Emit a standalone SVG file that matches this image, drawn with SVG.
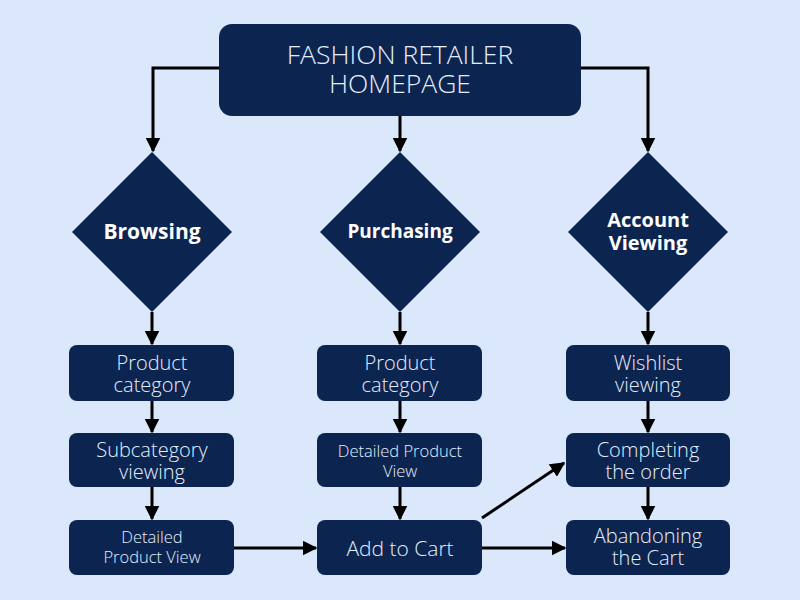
<svg xmlns="http://www.w3.org/2000/svg" width="800" height="600" viewBox="0 0 800 600">
<style>
.node{fill:#0c2550}
.lt{font-family:"Open Sans","Liberation Sans",sans-serif;font-weight:300;fill:#e6eefc;text-anchor:middle}
.bd{font-family:"Open Sans","Liberation Sans",sans-serif;font-weight:700;fill:#ffffff;text-anchor:middle}
.c{stroke:#000;stroke-width:3;fill:none;marker-end:url(#ah)}
</style>
<defs>
<marker id="ah" viewBox="0 0 10 10" refX="9" refY="5" markerWidth="5" markerHeight="5" orient="auto" markerUnits="strokeWidth">
<path d="M0,0 L10,5 L0,10 z" fill="#000"/>
</marker>
</defs>
<rect width="800" height="600" fill="#dbe8fb"/>
<g id="connectors">
<path class="c" d="M219,68 H153 V151"/>
<path class="c" d="M400,116 V151"/>
<path class="c" d="M581,68 H648 V151"/>
<path class="c" d="M152,312 V344"/>
<path class="c" d="M400,312 V344"/>
<path class="c" d="M648,312 V344"/>
<path class="c" d="M152,401 V432"/>
<path class="c" d="M152,487 V519"/>
<path class="c" d="M400,401 V432"/>
<path class="c" d="M400,487 V519"/>
<path class="c" d="M648,401 V432"/>
<path class="c" d="M648,487 V519"/>
<path class="c" d="M234,548 H316"/>
<path class="c" d="M482,548 H565"/>
<path class="c" d="M482,518 L564,463"/>
</g>
<g id="home"><rect class="node" x="219" y="24" width="362" height="92" rx="13"/>
<text class="lt" x="400" y="64" font-size="26.5">FASHION RETAILER</text>
<text class="lt" x="400" y="93" font-size="26.5">HOMEPAGE</text></g>
<g id="browsing"><polygon class="node" points="152,152 232,232 152,312 72,232"/>
<text class="bd" x="152" y="239" font-size="21">Browsing</text></g>
<g id="purchasing"><polygon class="node" points="400,152 480,232 400,312 320,232"/>
<text class="bd" x="400" y="238" font-size="19">Purchasing</text></g>
<g id="account"><polygon class="node" points="648,152 728,232 648,312 568,232"/>
<text class="bd" x="648" y="227" font-size="20">Account</text>
<text class="bd" x="648" y="250" font-size="20">Viewing</text></g>
<g id="b1"><rect class="node" x="69" y="345" width="165" height="56" rx="8"/>
<text class="lt" x="152" y="370" font-size="20">Product</text>
<text class="lt" x="152" y="392" font-size="20">category</text></g>
<g id="b2"><rect class="node" x="69" y="433" width="165" height="54" rx="8"/>
<text class="lt" x="152" y="457" font-size="20">Subcategory</text>
<text class="lt" x="152" y="479" font-size="20">viewing</text></g>
<g id="b3"><rect class="node" x="69" y="520" width="165" height="55" rx="8"/>
<text class="lt" x="152" y="543" font-size="16.5">Detailed</text>
<text class="lt" x="152" y="563" font-size="16.5">Product View</text></g>
<g id="p1"><rect class="node" x="317" y="345" width="165" height="56" rx="8"/>
<text class="lt" x="400" y="370" font-size="20">Product</text>
<text class="lt" x="400" y="392" font-size="20">category</text></g>
<g id="p2"><rect class="node" x="317" y="433" width="165" height="54" rx="8"/>
<text class="lt" x="400" y="457" font-size="16.5">Detailed Product</text>
<text class="lt" x="400" y="477" font-size="16.5">View</text></g>
<g id="p3"><rect class="node" x="317" y="520" width="165" height="55" rx="8"/>
<text class="lt" x="400" y="556" font-size="21">Add to Cart</text></g>
<g id="a1"><rect class="node" x="566" y="345" width="164" height="56" rx="8"/>
<text class="lt" x="648" y="370" font-size="20">Wishlist</text>
<text class="lt" x="648" y="392" font-size="20">viewing</text></g>
<g id="a2"><rect class="node" x="566" y="433" width="164" height="54" rx="8"/>
<text class="lt" x="648" y="457" font-size="20">Completing</text>
<text class="lt" x="648" y="479" font-size="20">the order</text></g>
<g id="a3"><rect class="node" x="566" y="520" width="164" height="55" rx="8"/>
<text class="lt" x="648" y="543" font-size="20">Abandoning</text>
<text class="lt" x="648" y="565" font-size="20">the Cart</text></g>
</svg>
